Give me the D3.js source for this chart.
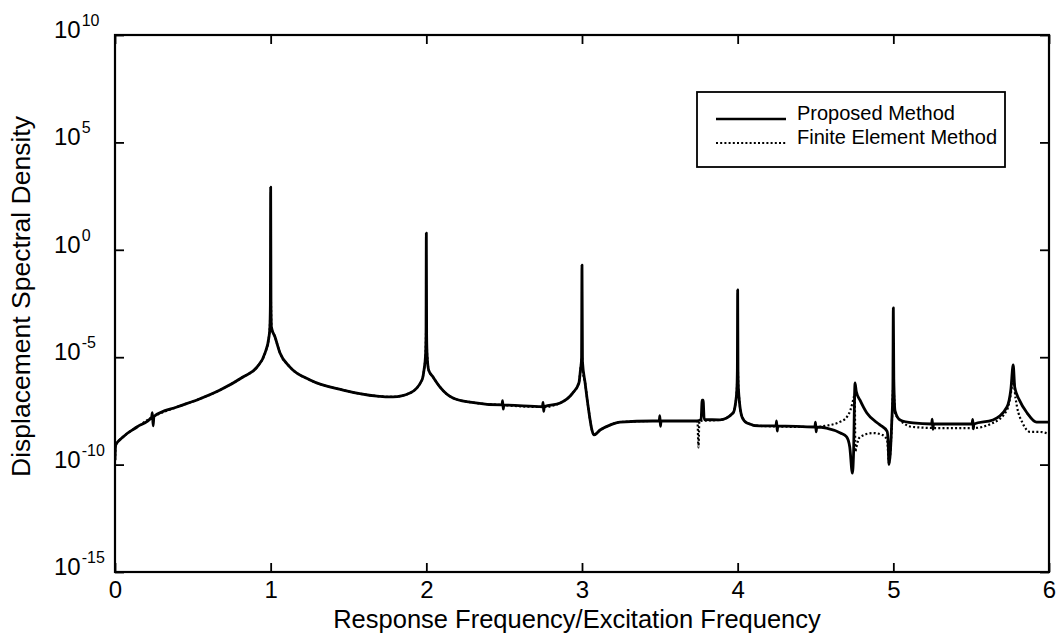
<!DOCTYPE html>
<html>
<head>
<meta charset="utf-8">
<script src="https://cdn.jsdelivr.net/npm/d3@7"></script>
<style>
  html, body { margin: 0; padding: 0; background: #fff; }
  svg { display: block; }
  text { font-family: "Liberation Sans", Arial, Helvetica, sans-serif; fill: #000; }
</style>
</head>
<body>
<svg id="chart" width="1058" height="639"></svg>
<script>
// Response frequency / excitation frequency, sampled along the proposed-method curve
const proposedFreq = [
  0.000, 0.004, 0.051, 0.141, 0.235, 0.240, 0.245, 0.250, 0.398, 0.527,
  0.675, 0.822, 0.912, 0.964, 0.989, 0.995, 0.998, 1.000, 1.002, 1.005,
  1.028, 1.060, 1.124, 1.253, 1.465, 1.683, 1.786, 1.895, 1.972, 1.985,
  1.995, 1.998, 2.000, 2.002, 2.005, 2.015, 2.043, 2.088, 2.171, 2.280,
  2.486, 2.490, 2.494, 2.498, 2.746, 2.750, 2.754, 2.758, 2.860, 2.940,
  2.980, 2.990, 2.997, 3.000, 3.003, 3.020, 3.040, 3.064, 3.077, 3.116,
  3.180, 3.244, 3.456, 3.496, 3.500, 3.504, 3.508, 3.739, 3.765, 3.772,
  3.778, 3.785, 3.886, 3.970, 3.985, 3.995, 3.998, 4.000, 4.002, 4.005,
  4.028, 4.060, 4.140, 4.246, 4.250, 4.254, 4.258, 4.496, 4.500, 4.504,
  4.508, 4.570, 4.660, 4.700, 4.720, 4.737, 4.744, 4.754, 4.762, 4.786,
  4.830, 4.914, 4.960, 4.966, 4.972, 4.990, 4.997, 5.000, 5.003, 5.011,
  5.043, 5.126, 5.246, 5.250, 5.254, 5.258, 5.506, 5.510, 5.514, 5.518,
  5.640, 5.730, 5.755, 5.770, 5.780, 5.810, 5.860, 5.920, 6.000
];
// log10 of the displacement spectral density, proposed method
const proposedLogPSD = [
  -9.80, -9.10, -8.72, -8.25, -7.80, -7.58, -8.20, -7.76, -7.32, -6.99,
  -6.53, -5.92, -5.46, -4.80, -4.06, -3.60, -2.60,  2.92, -2.60, -3.60,
  -4.06, -4.80, -5.46, -6.06, -6.53, -6.81, -6.85, -6.67, -6.06, -5.60,
  -4.90, -4.00,  0.78, -4.00, -4.90, -5.60, -5.92, -6.39, -6.90, -7.09,
  -7.22, -7.02, -7.42, -7.23, -7.30, -7.10, -7.52, -7.30, -7.13, -6.67,
  -6.20, -5.60, -5.10, -0.71, -5.20, -6.20, -7.32, -8.39, -8.62, -8.39,
  -8.16, -8.02, -7.97, -7.97, -7.72, -8.22, -7.97, -7.97, -7.90, -7.00,
  -7.00, -7.90, -7.92, -7.60, -7.20, -6.50, -5.60, -1.87, -5.60, -6.50,
  -7.78, -8.06, -8.20, -8.20, -7.96, -8.44, -8.20, -8.25, -8.02, -8.48,
  -8.25, -8.30, -8.53, -8.71, -9.18, -10.40, -9.60, -6.20, -6.60, -7.00,
  -7.60, -8.15, -8.45, -8.85, -10.00, -8.00, -6.50, -2.70, -6.00, -7.50,
  -7.92, -8.06, -8.11, -7.88, -8.36, -8.11, -8.11, -7.90, -8.34, -8.11,
  -7.92, -7.32, -6.50, -5.36, -6.40, -7.00, -7.60, -8.02, -8.02
];

// Frequency ratio sampled along the finite-element curve
const femFreq = [
  0.000, 0.004, 0.051, 0.141, 0.238, 0.398, 0.527, 0.675, 0.822, 0.912,
  0.964, 0.989, 0.995, 1.000, 1.005, 1.028, 1.060, 1.124, 1.253, 1.465,
  1.683, 1.786, 1.895, 1.972, 1.985, 1.995, 2.000, 2.005, 2.015, 2.043,
  2.088, 2.171, 2.280, 2.490, 2.750, 2.860, 2.940, 2.980, 2.990, 3.000,
  3.005, 3.020, 3.040, 3.064, 3.077, 3.116, 3.180, 3.244, 3.456, 3.742,
  3.748, 3.754, 3.886, 3.970, 3.985, 3.995, 4.000, 4.005, 4.028, 4.060,
  4.140, 4.500, 4.560, 4.660, 4.700, 4.725, 4.745, 4.752, 4.756, 4.762,
  4.786, 4.870, 4.930, 4.960, 4.972, 4.990, 5.000, 5.006, 5.011, 5.043,
  5.126, 5.300, 5.510, 5.640, 5.730, 5.755, 5.770, 5.785, 5.795, 5.830,
  5.880, 5.940, 6.000
];
// log10 of the displacement spectral density, finite element method
const femLogPSD = [
  -9.80, -9.10, -8.72, -8.25, -7.80, -7.32, -6.99, -6.53, -5.92, -5.46,
  -4.80, -4.06, -3.60, -1.90, -3.60, -4.06, -4.80, -5.46, -6.06, -6.53,
  -6.81, -6.85, -6.67, -6.06, -5.60, -4.90, -3.50, -4.90, -5.60, -5.92,
  -6.39, -6.90, -7.09, -7.23, -7.32, -7.13, -6.67, -6.20, -5.60, -5.00,
  -5.60, -6.20, -7.32, -8.39, -8.62, -8.39, -8.16, -8.02, -7.97, -7.97,
  -9.20, -7.97, -7.92, -7.60, -7.20, -6.50, -5.40, -6.50, -7.78, -8.06,
  -8.20, -8.25, -8.20, -8.00, -7.80, -7.45, -6.90, -6.70, -9.40, -9.20,
  -8.71, -8.53, -8.62, -8.85, -9.90, -8.20, -6.30, -7.00, -7.60, -7.92,
  -8.25, -8.30, -8.30, -8.06, -7.46, -6.70, -5.97, -6.90, -7.32, -8.06,
  -8.48, -8.48, -8.57
];

const xTicks = [0, 1, 2, 3, 4, 5, 6];
const yTickExponents = [-15, -10, -5, 0, 5, 10];
const seriesNames = ["Proposed Method", "Finite Element Method"];
const xTitle = "Response Frequency/Excitation Frequency";
const yTitle = "Displacement Spectral Density";

const svg = d3.select("#chart");
const plot = { left: 115, top: 35, right: 1049, bottom: 572 };

const x = d3.scaleLinear().domain([0, 6]).range([plot.left, plot.right]);
const y = d3.scaleLog().domain([1e-15, 1e10]).range([plot.bottom, plot.top]);

svg.append("rect").attr("width", 1058).attr("height", 639).attr("fill", "#fff");

svg.append("defs").append("clipPath").attr("id", "plotClip")
  .append("rect")
  .attr("x", plot.left).attr("y", plot.top)
  .attr("width", plot.right - plot.left).attr("height", plot.bottom - plot.top);

// Curves (monotone interpolation keeps the resonance spikes from overshooting)
const toPoints = (fs, ls) => fs.map((f, i) => ({ f: f, v: Math.pow(10, ls[i]) }));
const line = d3.line().x(d => x(d.f)).y(d => y(d.v)).curve(d3.curveMonotoneX);

const curves = svg.append("g").attr("clip-path", "url(#plotClip)");
curves.append("path")
  .datum(toPoints(proposedFreq, proposedLogPSD))
  .attr("d", line)
  .attr("fill", "none").attr("stroke", "#000")
  .attr("stroke-width", 2.8).attr("stroke-linejoin", "round");
curves.append("path")
  .datum(toPoints(femFreq, femLogPSD))
  .attr("d", line)
  .attr("fill", "none").attr("stroke", "#000")
  .attr("stroke-width", 2.2).attr("stroke-dasharray", "2,2.2");

// Axes: inward ticks on all four sides
const yTickValues = yTickExponents.map(e => Math.pow(10, e));
function styleAxis(g) {
  g.select(".domain").remove();
  g.selectAll(".tick line").attr("stroke", "#000").attr("stroke-width", 1.8);
}
svg.append("g").attr("transform", `translate(0,${plot.bottom})`)
  .call(d3.axisBottom(x).tickValues(xTicks).tickSize(-9).tickPadding(9).tickFormat(d3.format("d")))
  .call(styleAxis)
  .call(g => g.selectAll(".tick text").attr("font-size", 24)
    .attr("font-family", "'Liberation Sans', Arial, sans-serif").attr("fill", "#000"));
svg.append("g").attr("transform", `translate(0,${plot.top})`)
  .call(d3.axisTop(x).tickValues(xTicks).tickSize(-9).tickFormat(""))
  .call(styleAxis);
svg.append("g").attr("transform", `translate(${plot.left},0)`)
  .call(d3.axisLeft(y).tickValues(yTickValues).tickSize(-9).tickFormat(""))
  .call(styleAxis);
svg.append("g").attr("transform", `translate(${plot.right},0)`)
  .call(d3.axisRight(y).tickValues(yTickValues).tickSize(-9).tickFormat(""))
  .call(styleAxis);

// Power-of-ten tick labels
const yLabels = svg.append("g");
yTickExponents.forEach(e => {
  const t = yLabels.append("text")
    .attr("x", 54).attr("y", y(Math.pow(10, e)) + 3)
    .attr("font-size", 24);
  t.append("tspan").text("10");
  t.append("tspan").attr("dy", -12).attr("dx", 1).attr("font-size", 16).text(String(e));
});

// Plot frame
svg.append("rect")
  .attr("x", plot.left).attr("y", plot.top)
  .attr("width", plot.right - plot.left).attr("height", plot.bottom - plot.top)
  .attr("fill", "none").attr("stroke", "#000").attr("stroke-width", 2.2);

// Axis titles
svg.append("text")
  .attr("x", (plot.left + plot.right) / 2 - 5).attr("y", 628)
  .attr("text-anchor", "middle").attr("font-size", 25.5)
  .text(xTitle);
svg.append("text")
  .attr("transform", `translate(30,${(plot.top + plot.bottom) / 2 - 7}) rotate(-90)`)
  .attr("text-anchor", "middle").attr("font-size", 26.5)
  .text(yTitle);

// Legend
const legend = svg.append("g");
legend.append("rect")
  .attr("x", 697).attr("y", 92).attr("width", 308).attr("height", 75)
  .attr("fill", "#fff").attr("stroke", "#000").attr("stroke-width", 1.8);
const legendRows = [
  { name: seriesNames[0], dash: null, width: 2.6 },
  { name: seriesNames[1], dash: "2,2.2", width: 2.2 }
];
legendRows.forEach((r, i) => {
  const yy = 119 + i * 24;
  legend.append("line")
    .attr("x1", 716).attr("x2", 786).attr("y1", yy).attr("y2", yy)
    .attr("stroke", "#000").attr("stroke-width", r.width)
    .attr("stroke-dasharray", r.dash);
  legend.append("text")
    .attr("x", 797).attr("y", yy + 1).attr("font-size", 20)
    .text(r.name);
});
</script>
</body>
</html>
